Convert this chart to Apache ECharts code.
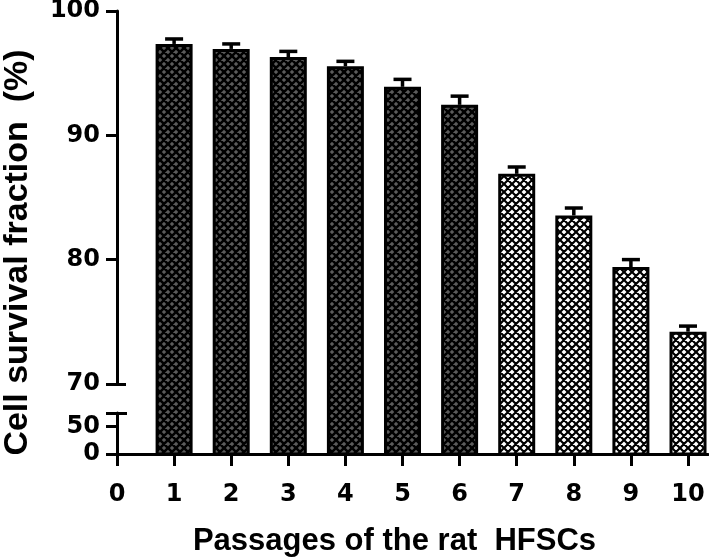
<!DOCTYPE html>
<html>
<head>
<meta charset="utf-8">
<script src="https://cdn.jsdelivr.net/npm/echarts@6/dist/echarts.min.js"></script>
<style>
  html, body { margin: 0; padding: 0; background: #fff; }
  #chart { width: 709px; height: 557px; }
</style>
</head>
<body>
<div id="chart"></div>
<script>
// passage number, survival (%) and error (SEM)
var passages = [1, 2, 3, 4, 5, 6, 7, 8, 9, 10];
var survival = [97.35, 96.95, 96.3, 95.55, 93.9, 92.45, 86.9, 83.55, 79.4, 74.2];
var errors = [0.4, 0.4, 0.45, 0.4, 0.6, 0.7, 0.55, 0.6, 0.6, 0.45];
var darkPassages = [1, 2, 3, 4, 5, 6]; // the rest are drawn light
var xTicks = [0, 1, 2, 3, 4, 5, 6, 7, 8, 9, 10];
var upperTicks = [70, 80, 90, 100];
var lowerTicks = [0, 50];

var FONT = "'Liberation Sans', Arial, sans-serif";
var DIGITS = "'DejaVu Sans', sans-serif";

// diagonal cross-hatch tile
function hatch(bg, lw) {
  var s = 8;
  var c = document.createElement("canvas");
  c.width = s;
  c.height = s;
  var g = c.getContext("2d");
  g.fillStyle = bg;
  g.fillRect(0, 0, s, s);
  g.strokeStyle = "#000";
  g.lineWidth = lw;
  g.beginPath();
  for (var k = -s; k <= s; k += s) {
    g.moveTo(k - 1, -1);
    g.lineTo(k + s + 1, s + 1);
    g.moveTo(k + s + 1, -1);
    g.lineTo(k - 1, s + 1);
  }
  g.stroke();
  return c;
}
var darkFill = { image: hatch("#5b5b5b", 2.6), repeat: "repeat" };
var lightFill = { image: hatch("#ffffff", 2.2), repeat: "repeat" };

var barData = passages.map(function (p, i) {
  var dark = darkPassages.indexOf(p) >= 0;
  return {
    value: [p, survival[i]],
    itemStyle: { color: dark ? darkFill : lightFill }
  };
});
var errData = passages.map(function (p, i) {
  return [p, survival[i], errors[i]];
});

var black = { color: "#000", width: 3 };
var labelStyle = { color: "#000", fontSize: 24, fontWeight: "bold", fontFamily: DIGITS };

var myChart = echarts.init(document.getElementById("chart"));
var option = {
  animation: false,
  grid: [
    { left: 117, right: 1, top: 11, height: 443, outerBoundsMode: "none" },   // bars
    { left: 117, width: 40, top: 11, height: 373, outerBoundsMode: "none" },  // upper axis piece 70-100
    { left: 117, width: 40, top: 413, height: 41, outerBoundsMode: "none" }   // lower axis piece 0-75
  ],
  xAxis: [
    {
      type: "value",
      gridIndex: 0,
      min: 0,
      max: 10.35,
      interval: 1,
      axisLine: { onZero: false, lineStyle: black },
      axisTick: { customValues: xTicks, length: 12, lineStyle: black },
      axisLabel: Object.assign({ customValues: xTicks, margin: 29 }, labelStyle),
      splitLine: { show: false },
      name: "Passages of the rat  HFSCs",
      nameLocation: "middle",
      nameGap: 72,
      nameTextStyle: {
        color: "#000", fontSize: 31, fontWeight: "bold", fontFamily: FONT,
        padding: [0, 36, 0, 0]
      }
    },
    { type: "value", gridIndex: 1, show: false },
    { type: "value", gridIndex: 2, show: false }
  ],
  yAxis: [
    {
      type: "value",
      gridIndex: 0,
      position: "left",
      min: 64.36,
      max: 100,
      axisLine: { show: false },
      axisTick: { show: false },
      axisLabel: { show: false },
      splitLine: { show: false },
      name: "Cell survival fraction  (%)",
      nameLocation: "middle",
      nameRotate: 90,
      nameGap: 82,
      nameTextStyle: {
        color: "#000", fontSize: 34, fontWeight: "bold", fontFamily: FONT,
        padding: [0, 40, 0, 0]
      }
    },
    {
      type: "value",
      gridIndex: 1,
      position: "left",
      min: 70,
      max: 100,
      interval: 10,
      axisLine: { lineStyle: black },
      axisTick: { customValues: upperTicks, length: 11, lineStyle: black },
      axisLabel: Object.assign({ customValues: upperTicks, margin: 17 }, labelStyle),
      splitLine: { show: false }
    },
    {
      type: "value",
      gridIndex: 1,
      position: "left",
      min: 70,
      max: 100,
      axisLine: { show: false },
      axisTick: { inside: true, customValues: [70], length: 9, lineStyle: black },
      axisLabel: { show: false },
      splitLine: { show: false }
    },
    {
      type: "value",
      gridIndex: 2,
      position: "left",
      min: 0,
      max: 75,
      interval: 25,
      axisLine: { lineStyle: black },
      axisTick: { customValues: [0, 50, 75], length: 11, lineStyle: black },
      axisLabel: Object.assign({ customValues: lowerTicks, margin: 17 }, labelStyle),
      splitLine: { show: false }
    },
    {
      type: "value",
      gridIndex: 2,
      position: "left",
      min: 0,
      max: 75,
      axisLine: { show: false },
      axisTick: { inside: true, customValues: [75], length: 10, lineStyle: black },
      axisLabel: { show: false },
      splitLine: { show: false }
    }
  ],
  series: [
    {
      type: "bar",
      xAxisIndex: 0,
      yAxisIndex: 0,
      barWidth: 37,
      data: barData,
      itemStyle: { borderColor: "#000", borderWidth: 3 }
    },
    {
      type: "custom",
      xAxisIndex: 0,
      yAxisIndex: 0,
      z: 5,
      data: errData,
      renderItem: function (params, api) {
        var x = api.value(0);
        var base = api.coord([x, api.value(1)]);
        var top = api.coord([x, api.value(1) + api.value(2)]);
        var st = { stroke: "#000", lineWidth: 3.5 };
        return {
          type: "group",
          children: [
            { type: "line", shape: { x1: base[0], y1: base[1], x2: top[0], y2: top[1] }, style: st },
            { type: "line", shape: { x1: top[0] - 9, y1: top[1], x2: top[0] + 9, y2: top[1] }, style: st }
          ]
        };
      }
    }
  ]
};
myChart.setOption(option);
</script>
</body>
</html>
